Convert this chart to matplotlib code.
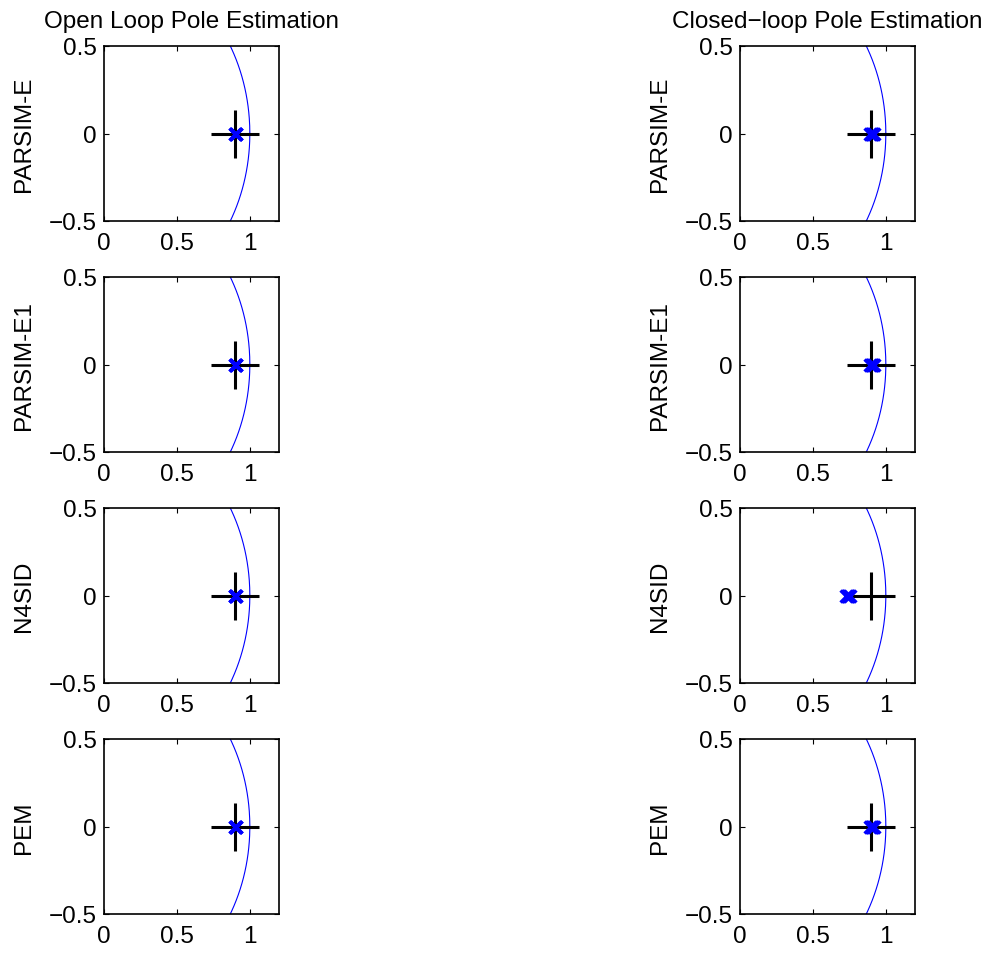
import numpy as np
import matplotlib.pyplot as plt

plt.rcParams['font.family'] = ['Liberation Sans', 'DejaVu Sans']

# data
methods = ["PARSIM-E", "PARSIM-E1", "N4SID", "PEM"]
column_titles = ["Open Loop Pole Estimation", "Closed\u2212loop Pole Estimation"]
true_pole = 0.9

# estimated poles (real axis), one list per method
open_parsim_e = [0.898, 0.900, 0.902, 0.904, 0.906]
open_parsim_e1 = [0.898, 0.900, 0.902, 0.904, 0.906]
open_n4sid = [0.897, 0.899, 0.901, 0.903, 0.905]
open_pem = [0.898, 0.900, 0.902, 0.904, 0.906]

closed_parsim_e = [0.893, 0.898, 0.903, 0.908, 0.913, 0.917]
closed_parsim_e1 = [0.892, 0.897, 0.902, 0.907, 0.912, 0.916]
closed_n4sid = [0.728, 0.733, 0.738, 0.743, 0.748, 0.752]
closed_pem = [0.893, 0.898, 0.903, 0.908, 0.913, 0.917]

open_loop = [open_parsim_e, open_parsim_e1, open_n4sid, open_pem]
closed_loop = [closed_parsim_e, closed_parsim_e1, closed_n4sid, closed_pem]

W, H = 994, 954
fig = plt.figure(figsize=(W / 100, H / 100), dpi=100)

col_x = [104, 740]
row_top = [47, 278, 509, 740]
ax_w, ax_h = 175, 175

theta = np.linspace(0, 2 * np.pi, 721)

for c, poles_col in enumerate([open_loop, closed_loop]):
    for r, method in enumerate(methods):
        left = col_x[c] / W
        bottom = 1 - (row_top[r] + ax_h) / H
        ax = fig.add_axes([left, bottom, ax_w / W, ax_h / H])

        # unit circle
        ax.plot(np.cos(theta), np.sin(theta), color='blue', lw=0.8)
        # true pole
        ax.plot([true_pole], [0], marker='+', color='black', ms=34.5, mew=2.2,
                linestyle='none')
        # estimates
        est = poles_col[r]
        ax.plot(est, np.zeros(len(est)), marker='x', color='blue', ms=8.5,
                mew=2.3, linestyle='none')

        ax.set_xlim(0, 1.2)
        ax.set_ylim(-0.5, 0.5)
        ax.set_xticks([0, 0.5, 1])
        ax.set_xticklabels(['0', '0.5', '1'])
        ax.set_yticks([-0.5, 0, 0.5])
        ax.set_yticklabels(['\u22120.5', '0', '0.5'])
        ax.tick_params(direction='in', length=3.5, width=0.8, top=True,
                       right=True, labelsize=17.5)
        ax.tick_params(axis='x', pad=8)
        ax.tick_params(axis='y', pad=5)
        for sp in ax.spines.values():
            sp.set_linewidth(1.2)
        ax.set_ylabel(method, fontsize=17.5, labelpad=10)
        if r == 0:
            ax.set_title(column_titles[c], fontsize=17.5, pad=14)

fig.savefig('out.png', dpi=100, facecolor='white')
